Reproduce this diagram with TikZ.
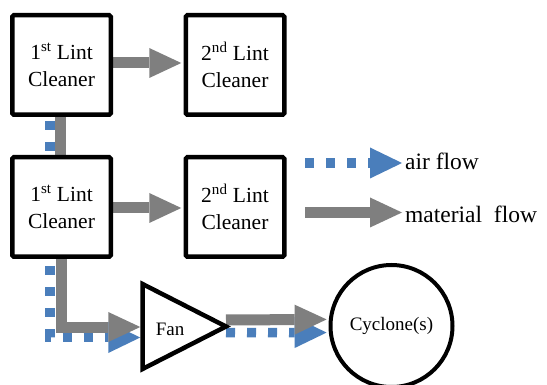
\documentclass[tikz,border=0pt]{standalone}
\usepackage{fontspec}
\setmainfont{Liberation Serif}
\usetikzlibrary{arrows.meta,calc}
\definecolor{matgray}{RGB}{127,127,127}
\definecolor{airblue}{RGB}{74,126,187}
\pgfdeclarelayer{bg}
\pgfsetlayers{bg,main}
\begin{document}
\begin{tikzpicture}[x=1pt,y=-1pt,
  unit/.style={draw=black, line width=4.5pt, rounded corners=1.5pt, fill=white,
    minimum width=98.5pt, minimum height=99.5pt, inner sep=0pt, align=center,
    font=\rmfamily\fontsize{21.5}{27}\selectfont},
  matline/.style={draw=matgray, line width=11pt},
  matflow/.style={matline, shorten >=2.25pt,
    -{Triangle[length=32pt,width=30pt,line width=0pt]}},
  airline/.style={draw=airblue, line width=9.5pt, dash pattern=on 9pt off 12pt},
  airflow/.style={airline, shorten >=2.25pt,
    -{Triangle[length=32pt,width=31pt,line width=0pt]}},
  lbl/.style={anchor=base west, inner sep=0pt, font=\rmfamily\fontsize{23.5}{27}\selectfont},
  small/.style={inner sep=0pt, font=\rmfamily\fontsize{19}{22}\selectfont}]
\useasboundingbox (0,0) rectangle (547,385);

% units
\node[unit] (c1a) at (61.5,65) {1\textsuperscript{st} Lint\\Cleaner};
\node[unit] (c2a) at (235,65) {2\textsuperscript{nd} Lint\\Cleaner};
\node[unit] (c1b) at (61.5,207) {1\textsuperscript{st} Lint\\Cleaner};
\node[unit] (c2b) at (235,207) {2\textsuperscript{nd} Lint\\Cleaner};

% fan
\coordinate (fanTop) at (142.5,284);
\coordinate (fanBot) at (142.5,369);
\coordinate (fanTip) at (226,326.5);
\draw[line width=4.5pt, fill=white, line join=miter] (fanTop) -- (fanBot) -- (fanTip) -- cycle;
\node[small] (fan) at (170,329) {Fan};
\coordinate (fanInM) at (142.5,327);
\coordinate (fanInA) at (142.5,337.5);
\coordinate (fanOutM) at (226,320);
\coordinate (fanOutA) at (226,332.5);

% cyclone
\node[circle, draw, line width=4pt, minimum size=122pt, inner sep=0pt, fill=white,
  font=\rmfamily\fontsize{19}{22}\selectfont] (cyc) at (391.5,326) {Cyclone(s)};

% connectors
\begin{pgfonlayer}{bg}
\draw[matflow] ($(c1a.east)+(0,-2)$) -- ($(c2a.west)+(0,-2)$);
\draw[matflow] ($(c1b.east)+(0,1)$) -- ($(c2b.west)+(0,1)$);
\draw[airline, dash phase=17pt] ($(c1a.south)+(-11.5,0)$) -- ($(c1b.north)+(-11.5,0)$);
\draw[matline] ($(c1a.south)+(-1,0)$) -- ($(c1b.north)+(-1,0)$);
\draw[airflow, dash phase=14pt] ($(c1b.south)+(-11.5,0)$) |- (fanInA);
\draw[matflow] ($(c1b.south)+(-0.5,0)$) |- (fanInM);
\draw[airflow] (fanOutA) -- (cyc.186);
\draw[matflow] (fanOutM) -- (cyc.174);
\end{pgfonlayer}

% legend
\coordinate (airA) at (305,163);
\coordinate (airB) at (404.25,163);
\draw[airflow] (airA) -- (airB);
\node[lbl] (airT) at (405,170) {air flow};
\coordinate (matA) at (305,212.5);
\coordinate (matB) at (404.25,212.5);
\draw[matflow] (matA) -- (matB);
\node[lbl] (matT) at (405,223) {material\ \ flow};
\end{tikzpicture}
\end{document}
